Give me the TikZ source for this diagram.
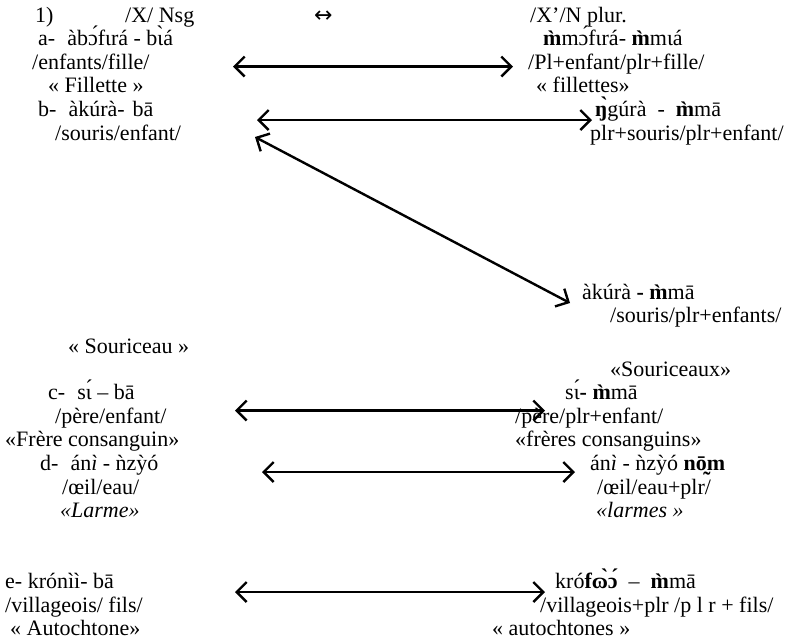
\documentclass[tikz,border=0pt]{standalone}
\usepackage{fontspec}
\setmainfont{Liberation Serif}
\newfontfamily\symfont{DejaVu Sans}
\usetikzlibrary{arrows.meta}
\tikzset{
  ling/.style={anchor=base west, inner sep=0pt, font=\fontsize{22}{24}\selectfont},
  pairarrow/.style={{Straight Barb[length=10pt,width=20pt]}-{Straight Barb[length=10pt,width=20pt]}, line width=2.4pt},
}
\begin{document}
\begin{tikzpicture}[x=1pt,y=-1pt]
        \useasboundingbox (0,0) rectangle (812,641);
        % header
        \node[ling] (hnum) at (35,22) {1)};
        \node[ling] (hsg) at (125,22) {/X/ Nsg};
        \node[ling] (hsym) at (314,22) {\symfont ↔};
        \node[ling] (hpl) at (530,22) {/X’/N plur.};
        % a
        \node[ling] (aL1) at (38,45.6) {a-\hspace{12pt}àbɔ́fɩrá - bɩ̀á};
        \node[ling] (aL2) at (32,69.2) {/enfants/fille/};
        \node[ling] (aL3) at (48,92.8) {« Fillette »};
        \node[ling] (aR1) at (543,45.6) {\textbf{m̀}mɔ́fɩrá- \textbf{m̀}mɩá};
        \node[ling] (aR2) at (528,69.2) {/Pl+enfant/plr+fille/};
        \node[ling] (aR3) at (536,92.8) {« fillettes»};
        % b
        \node[ling] (bL1) at (38,116.4) {b-\hspace{12pt}àkúrà-\hspace{8pt}bā};
        \node[ling] (bL2) at (55,140) {/souris/enfant/};
        \node[ling] (bL3) at (68,353) {« Souriceau »};
        \node[ling] (bR1) at (595,116.4) {\textbf{ŋ̀}gúrà\ \ -\ \ \textbf{m̀}mā};
        \node[ling] (bR2) at (590,140) {plr+souris/plr+enfant/};
        \node[ling] (bR3) at (582,299) {àkúrà \textbf{-} \textbf{m̀}mā};
        \node[ling] (bR4) at (610,322) {/souris/plr+enfants/};
        \node[ling] (bR5) at (610,376) {«Souriceaux»};
        % c
        \node[ling] (cL1) at (48,399.6) {c-\hspace{12pt}sɩ́ – bā};
        \node[ling] (cL2) at (55,423.2) {/père/enfant/};
        \node[ling] (cL3) at (5,446.8) {«Frère consanguin»};
        \node[ling] (cR1) at (565,399.6) {sɩ́\textbf{-} \textbf{m̀}mā};
        \node[ling] (cR2) at (515,423.2) {/père/plr+enfant/};
        \node[ling] (cR3) at (515,446.8) {«frères consanguins»};
        % d
        \node[ling] (dL1) at (40,470.4) {d-\hspace{12pt}án\textit{ì} - ǹzỳó};
        \node[ling] (dL2) at (62,494) {/œil/eau/};
        \node[ling] (dL3) at (60,517.6) {\textit{«Larme»}};
        \node[ling] (dR1) at (590,470.4) {án\textit{ì} - ǹzỳó \textbf{nō̰m}};
        \node[ling] (dR2) at (597,494) {/œil/eau+plr/};
        \node[ling] (dR3) at (596,517.6) {\textit{«larmes »}};
        % e
        \node[ling] (eL1) at (5,588.4) {e- krónìì- bā};
        \node[ling] (eL2) at (5,612) {/villageois/ fils/};
        \node[ling] (eL3) at (10,635.6) {« Autochtone»};
        \node[ling] (eR1) at (555,588.4) {kró\textbf{fɷ̀ɔ́}\ \ –\ \ \textbf{m̀}mā};
        \node[ling] (eR2) at (540,612) {/villageois+plr /p l r + fils/};
        \node[ling] (eR3) at (492,635.6) {« autochtones »};
        % arrow ends
        \coordinate (aS) at (233,66.5);
        \coordinate (aE) at (513,66.5);
        \coordinate (bS) at (257,120);
        \coordinate (bE) at (592,120);
        \coordinate (bD) at (255,137);
        \coordinate (bF) at (570,303);
        \coordinate (cS) at (235,410.5);
        \coordinate (cE) at (545,410.5);
        \coordinate (dS) at (262,472);
        \coordinate (dE) at (575,472);
        \coordinate (eS) at (235,592);
        \coordinate (eE) at (545,592);
        \draw[pairarrow] (aS) -- (aE);
        \draw[pairarrow] (bS) -- (bE);
        \draw[pairarrow] (bD) -- (bF);
        \draw[pairarrow] (cS) -- (cE);
        \draw[pairarrow] (dS) -- (dE);
        \draw[pairarrow] (eS) -- (eE);
\end{tikzpicture}
\end{document}
